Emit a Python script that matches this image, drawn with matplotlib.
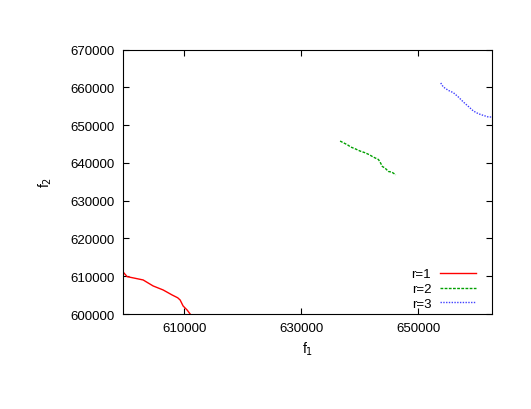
import matplotlib
matplotlib.use("Agg")
import matplotlib.pyplot as plt

plt.rcParams["font.family"] = ["Liberation Sans", "DejaVu Sans"]

# Pareto fronts
r1_f1 = [599600, 600260, 601500, 602990, 604700, 606410, 607950, 608900,
         609320, 609830, 610510, 611030]
r1_f2 = [611060, 609890, 609500, 609020, 607430, 606370, 605040, 604300,
         603710, 602120, 601060, 600000]

r2_f1 = [636670, 637230, 637920, 638500, 639230, 640090, 640940, 641680,
         642360, 643220, 643510, 643900, 644360, 644930, 645510, 646190]
r2_f2 = [645810, 645360, 644830, 644220, 643770, 643160, 642710, 642180,
         641560, 640930, 640240, 639070, 638650, 637750, 637590, 636870]

r3_f1 = [653880, 654320, 655180, 656040, 656890, 657750, 658600, 659460,
         660310, 661170, 662030, 662610]
r3_f2 = [661190, 660130, 659230, 658620, 657480, 656150, 654990, 653770,
         653050, 652600, 652180, 652180]

x_ticks = [610000, 630000, 650000]
y_ticks = [600000, 610000, 620000, 630000, 640000, 650000, 660000, 670000]

fig = plt.figure(figsize=(5.31, 4.10), dpi=100)
ax = fig.add_axes([0.2322, 0.2317, 0.6944, 0.6446])

ax.plot(r1_f1, r1_f2, color="#ff0000", lw=1.0, label="r=1")
ax.plot(r2_f1, r2_f2, color="#00a000", lw=1.0, ls=(0, (2, 1)), label="r=2")
ax.plot(r3_f1, r3_f2, color="#4040ff", lw=1.0, ls=(0, (1, 1)), label="r=3")

ax.set_xlim(599600, 662650)
ax.set_ylim(600000, 670000)
ax.set_xticks(x_ticks)
ax.set_yticks(y_ticks)
ax.set_xticklabels([str(t) for t in x_ticks])
ax.set_yticklabels([str(t) for t in y_ticks])
ax.tick_params(direction="in", top=True, right=True, length=4, width=0.8,
               labelsize=9.5, pad=6)
for s in ax.spines.values():
    s.set_linewidth(0.8)

ax.set_xlabel("f$_1$", fontsize=10, labelpad=4)
ax.set_ylabel("f$_2$", fontsize=10, labelpad=12)

ax.legend(loc="lower right", bbox_to_anchor=(476 / 531, (410 - 311) / 410),
          bbox_transform=fig.transFigure, markerfirst=False, frameon=False,
          fontsize=9.5, handlelength=2.7, handletextpad=0.7,
          labelspacing=0.2, borderpad=0, borderaxespad=0)

fig.savefig("out.png", dpi=100)
plt.close(fig)
